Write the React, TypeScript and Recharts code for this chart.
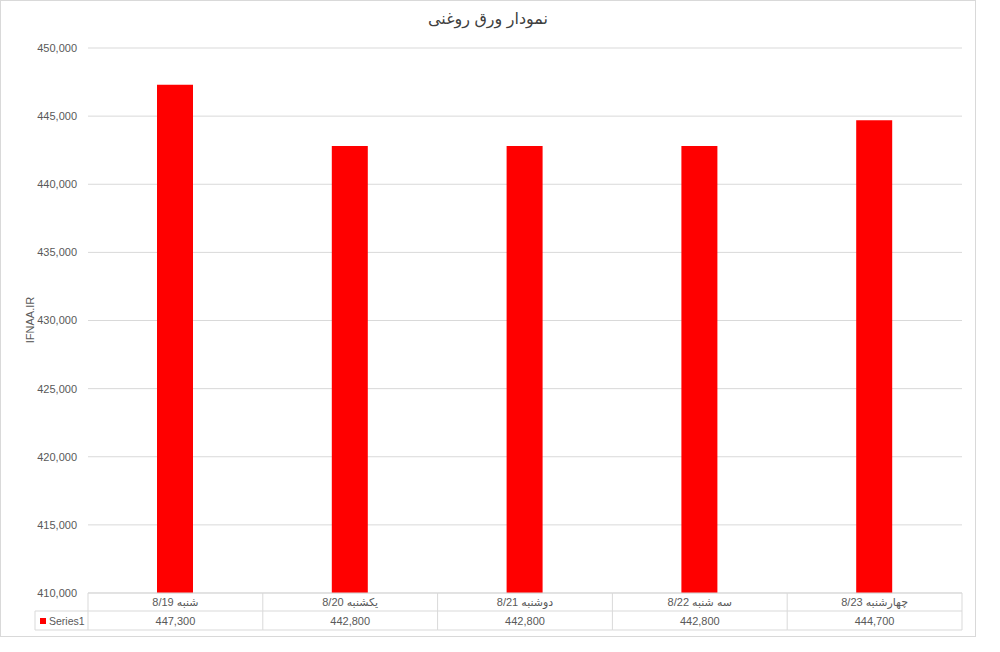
import React from "react";
import { Bar, BarChart, CartesianGrid, XAxis, YAxis } from "recharts";

const categories = ["شنبه 8/19", "یکشنبه 8/20", "دوشنبه 8/21", "سه شنبه 8/22", "چهارشنبه 8/23"];
const seriesValues = [447300, 442800, 442800, 442800, 444700];
const yTicks = [410000, 415000, 420000, 425000, 430000, 435000, 440000, 445000, 450000];
const seriesName = "Series1";
const chartTitle = "نمودار ورق روغنی";
const yAxisTitle = "IFNAA.IR";

const W = 976;
const H = 637;
const LEFT = 88;
const RIGHT = 14;
const TOP = 48;
const BOTTOM = 44;
const HALF = (W - LEFT - RIGHT) / categories.length / 2;
const LINE = "#d9d9d9";
const TEXT = "#595959";
const FONT = "'Liberation Sans', 'DejaVu Sans', sans-serif";

const data = categories.map((name, i) => ({ name, value: seriesValues[i] }));

const fmt = (v: number) => v.toLocaleString("en-US");

function TableTick(props: any) {
  const { x, y, index } = props;
  const left = x - HALF;
  const right = x + HALF;
  return (
    <g>
      <line x1={left} y1={y} x2={right} y2={y} stroke={LINE} />
      <line x1={left} y1={y + 18} x2={right} y2={y + 18} stroke={LINE} />
      <line x1={left} y1={y + 37} x2={right} y2={y + 37} stroke={LINE} />
      <line x1={right} y1={y} x2={right} y2={y + 37} stroke={LINE} />
      {index === 0 && (
        <g>
          <line x1={left} y1={y} x2={left} y2={y + 37} stroke={LINE} />
          <line x1={35} y1={y + 18} x2={left} y2={y + 18} stroke={LINE} />
          <line x1={35} y1={y + 37} x2={left} y2={y + 37} stroke={LINE} />
          <line x1={35} y1={y + 18} x2={35} y2={y + 37} stroke={LINE} />
          <rect x={40} y={y + 25} width={6} height={6} fill="#ff0000" />
          <text x={49} y={y + 32} fontSize={10.5} fill={TEXT} fontFamily={FONT}>
            {seriesName}
          </text>
        </g>
      )}
      <text x={x} y={y + 13} textAnchor="middle" fontSize={11} fill={TEXT} fontFamily={FONT}>
        {"\u202B" + categories[index] + "\u202C"}
      </text>
      <text x={x} y={y + 32} textAnchor="middle" fontSize={11} fill={TEXT} fontFamily={FONT}>
        {fmt(seriesValues[index])}
      </text>
    </g>
  );
}

export default function App() {
  return (
    <div style={{ position: "absolute", left: 0, top: 0, width: W, height: H, background: "#fff" }}>
      <div
        style={{
          position: "absolute",
          left: 0,
          top: 0,
          width: W,
          height: H,
          border: `1px solid ${LINE}`,
          boxSizing: "border-box",
        }}
      />
      <div
        style={{
          position: "absolute",
          left: 0,
          top: 9,
          width: W,
          textAlign: "center",
          fontFamily: FONT,
          fontSize: 16,
          color: "#404040",
          direction: "rtl",
        }}
      >
        {chartTitle}
      </div>
      <div
        style={{
          position: "absolute",
          left: 30 - 40,
          top: 320 - 8,
          width: 80,
          height: 16,
          lineHeight: "16px",
          textAlign: "center",
          transform: "rotate(-90deg)",
          fontFamily: FONT,
          fontSize: 11,
          color: TEXT,
        }}
      >
        {yAxisTitle}
      </div>
      <div style={{ position: "absolute", left: 0, top: 0 }}>
        <BarChart
          width={W}
          height={H}
          data={data}
          margin={{ top: TOP, right: RIGHT, bottom: 0, left: 0 }}
        >
          <CartesianGrid vertical={false} stroke={LINE} />
          <XAxis
            dataKey="name"
            height={BOTTOM}
            axisLine={false}
            tickLine={false}
            tickSize={0}
            tickMargin={0}
            interval={0}
            tick={<TableTick />}
          />
          <YAxis
            width={LEFT}
            domain={[410000, 450000]}
            ticks={yTicks}
            tickFormatter={fmt}
            axisLine={false}
            tickLine={false}
            tickSize={6}
            tickMargin={5}
            tick={{ fontSize: 11, fill: TEXT, fontFamily: FONT }}
          />
          <Bar dataKey="value" fill="#ff0000" barSize={36} isAnimationActive={false} />
        </BarChart>
      </div>
    </div>
  );
}
